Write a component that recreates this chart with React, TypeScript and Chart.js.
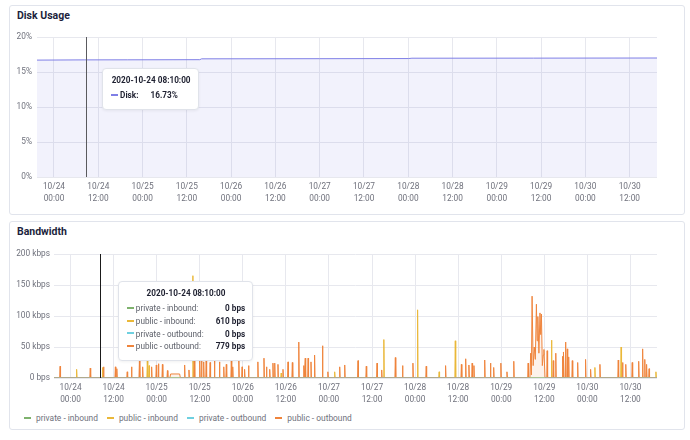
import React, { useEffect, useRef } from 'react';
import { Chart, registerables } from 'chart.js';

Chart.register(...registerables);

// ---------- data (hours are counted from 2020-10-24 00:00) ----------
const BASE_UTC = Date.UTC(2020, 9, 24, 0, 0, 0);
const RANGE_START_H = -4.6;
const RANGE_END_H = 163.4;
const X_TICK_H = [0, 12, 24, 36, 48, 60, 72, 84, 96, 108, 120, 132, 144, 156];
const HOVER_H = 8.1667; // 2020-10-24 08:10:00
const DISK_CROSSHAIR_H = 8.8;
const BW_CROSSHAIR_H = 8.17;

const DISK_Y_TICKS = [0, 5, 10, 15, 20];
const BW_Y_TICKS = [0, 50, 100, 150, 200];

// Disk usage (%)
const DISK_H = [-4.6, 8.1667, 20, 39.5, 40, 72, 96, 97, 130, 163.4];
const DISK_PCT = [16.7, 16.73, 16.74, 16.76, 16.88, 16.9, 16.92, 16.97, 16.98, 17.0];

// Bandwidth (kbps)
const PRIV_IN_H = [-4.6, 8.1667, 163.4];
const PRIV_IN_KBPS = [0, 0, 0];
const PRIV_OUT_H = [-4.6, 8.1667, 163.4];
const PRIV_OUT_KBPS = [0, 0, 0];

const PUB_IN_TRACE_H = [-4.6, 8.1667, 163.4];
const PUB_IN_TRACE_KBPS = [0.6, 0.61, 0.6];
const PUB_IN_FLOOR_KBPS = 0.6;
const PUB_IN_SPIKE_H = [1.7, 8.9, 21.4, 21.9, 34.1, 58.7, 73.6, 87.3, 96.7, 102.7, 107.2, 134.0, 146.1, 153.4, 163.1];
const PUB_IN_SPIKE_KBPS = [14, 17, 29, 20, 165, 8, 10, 62, 110, 10, 60, 61, 17, 50, 10];

const PUB_OUT_TRACE_H = [-4.6, 8.1667, 27.7, 27.9, 30.4, 30.6, 128.0, 128.2, 128.4, 128.6, 128.9, 129.2, 129.5, 129.8, 130.0, 130.2, 130.5, 130.8, 131.0, 131.2, 131.45, 131.7, 131.9, 132.2, 163.4];
const PUB_OUT_TRACE_KBPS = [0.8, 0.779, 0.8, 6.5, 6.5, 0.8, 0.8, 40, 5, 132, 20, 50, 30, 119, 60, 99, 40, 105, 70, 103, 20, 37, 46, 0.8, 0.8];
const PUB_OUT_FLOOR_KBPS = 0.8;
const PUB_OUT_SPIKE_H = [
  -2.9, 5.5, 9.2, 12.5, 12.9, 15.8, 17.0, 19.2, 20.1, 22.6, 23.9, 24.5, 25.6, 27.0,
  31.8, 33.0, 34.5, 36.0, 36.5, 37.1, 37.8, 38.9, 40.1, 41.5, 42.7, 43.4, 44.8, 45.2,
  46.9, 47.8, 48.5, 49.6, 52.2, 53.9, 54.6, 55.5, 56.4, 56.9, 57.8, 59.2, 60.6, 61.8,
  63.6, 65.0, 65.4, 66.2, 67.0, 68.0, 70.2, 71.7, 75.0, 76.4, 80.1, 82.4, 85.4, 86.7,
  90.5, 92.5, 95.4, 99.1, 104.5, 108.9, 110.1, 111.0, 111.9, 112.4, 115.4, 117.0, 117.9,
  119.9, 121.6, 123.5, 127.5, 132.8, 134.5, 135.2, 137.1, 137.4, 137.9, 138.4, 138.8,
  139.8, 141.3, 143.5, 144.9, 147.5, 152.6, 153.8, 154.7, 156.5, 158.3, 159.4, 160.0,
  160.5, 161.2,
];
const PUB_OUT_SPIKE_KBPS = [
  19, 16, 18, 18, 15, 10, 18, 29, 18, 18, 21, 23, 22, 12,
  21, 13, 45, 29, 31, 26, 29, 25, 31, 26, 18, 22, 28, 18,
  28, 18, 14, 20, 26, 32, 18, 14, 24, 24, 22, 14, 26, 25,
  58, 20, 32, 32, 26, 37, 52, 10, 18, 21, 28, 19, 24, 13,
  33, 20, 24, 19, 20, 22, 31, 21, 24, 20, 29, 24, 17,
  24, 10, 27, 24, 44, 28, 40, 35, 42, 58, 47, 34,
  28, 25, 30, 14, 22, 29, 25, 22, 25, 27, 47, 30,
  22, 15,
];

const SERIES_LABELS = ['private - inbound', 'public - inbound', 'private - outbound', 'public - outbound'];
const SERIES_COLORS = ['#7EB26D', '#EAB839', '#6ED0E0', '#EF843C'];
const DISK_COLOR = '#7f7fe6';

// ---------- helpers ----------
const FONT = 'Roboto, "Noto Sans", "DejaVu Sans", sans-serif';
const TICK_COLOR = '#6f717c';
const GRID_COLOR = '#e7e8ee';
const TICK_SIZE = 8.3;
const SPIKE_HALF_H = 0.12;

const pad = (n: number) => String(n).padStart(2, '0');
const hoursToDate = (h: number) => new Date(BASE_UTC + Math.round(h * 60) * 60000);
const fmtTick = (h: number) => {
  const d = hoursToDate(h);
  return [`${pad(d.getUTCMonth() + 1)}/${pad(d.getUTCDate())}`, `${pad(d.getUTCHours())}:${pad(d.getUTCMinutes())}`];
};
const fmtFull = (h: number) => {
  const d = hoursToDate(h);
  return `${d.getUTCFullYear()}-${pad(d.getUTCMonth() + 1)}-${pad(d.getUTCDate())} ${pad(d.getUTCHours())}:${pad(d.getUTCMinutes())}:${pad(d.getUTCSeconds())}`;
};
const fmtBps = (kbps: number) => {
  if (kbps === 0) return '0 bps';
  if (kbps < 1) return `${Math.round(kbps * 1000)} bps`;
  return `${Math.round(kbps)} kbps`;
};
const rgba = (hex: string, a: number) => {
  const n = parseInt(hex.slice(1), 16);
  return `rgba(${(n >> 16) & 255},${(n >> 8) & 255},${n & 255},${a})`;
};
const zipPts = (xs: number[], ys: number[]) => xs.map((x, i) => ({ x, y: ys[i] }));
const buildSpikeTrace = (th: number[], tv: number[], sh: number[], sv: number[], floor: number) => {
  const pts = zipPts(th, tv);
  sh.forEach((h, i) => {
    pts.push({ x: h - SPIKE_HALF_H, y: floor }, { x: h, y: sv[i] }, { x: h + SPIKE_HALF_H, y: floor });
  });
  pts.sort((a, b) => a.x - b.x);
  return pts;
};
const nearestIndex = (pts: { x: number }[], h: number) => {
  let best = 0;
  pts.forEach((p, i) => {
    if (Math.abs(p.x - h) < Math.abs(pts[best].x - h)) best = i;
  });
  return best;
};

const crosshairPlugin = {
  id: 'crosshair',
  afterDatasetsDraw(chart: any, _args: any, opts: any) {
    if (opts == null || opts.hours == null) return;
    const x = Math.round(chart.scales.x.getPixelForValue(opts.hours)) + 0.5;
    const { top, bottom } = chart.chartArea;
    const ctx = chart.ctx;
    ctx.save();
    ctx.strokeStyle = opts.color;
    ctx.lineWidth = 1;
    ctx.beginPath();
    ctx.moveTo(x, top);
    ctx.lineTo(x, bottom);
    ctx.stroke();
    ctx.restore();
  },
};

function makeExternalTooltip(el: HTMLDivElement, opts: { dx: number; dy: number; minWidth: number; fmt: (v: number) => string; boldLabel: boolean }) {
  return (context: any) => {
    const { chart, tooltip } = context;
    if (!tooltip || tooltip.opacity === 0 || !tooltip.dataPoints || !tooltip.dataPoints.length) {
      el.style.display = 'none';
      return;
    }
    const title = fmtFull(tooltip.dataPoints[0].parsed.x);
    const rows = tooltip.dataPoints
      .map((dp: any) => {
        const color = dp.dataset.borderColor;
        return `<tr style="height:12.8px">
          <td style="padding:0;white-space:nowrap;${opts.boldLabel ? 'font-weight:700;color:#1e2030;' : ''}"><span style="display:inline-block;width:7px;height:2px;background:${color};vertical-align:middle;margin-right:2px;position:relative;top:-1px"></span>${dp.dataset.label}:</td>
          <td style="padding:0 0 0 12px;text-align:right;font-weight:700;color:#1e2030;white-space:nowrap">${opts.fmt(dp.parsed.y)}</td>
        </tr>`;
      })
      .join('');
    el.innerHTML = `<div style="text-align:center;font-weight:700;color:#1e2030;line-height:13px;margin-bottom:2px">${title}</div>
      <table style="border-collapse:collapse;font:inherit;color:inherit;line-height:12.8px"><tbody>${rows}</tbody></table>`;
    el.style.display = 'block';
    el.style.minWidth = `${opts.minWidth}px`;
    el.style.left = `${chart.canvas.offsetLeft + tooltip.caretX + opts.dx}px`;
    el.style.top = `${chart.canvas.offsetTop + chart.chartArea.top + opts.dy}px`;
  };
}

const tooltipStyle: React.CSSProperties = {
  position: 'absolute',
  display: 'none',
  boxSizing: 'border-box',
  background: '#fff',
  border: '1px solid #e0e3ea',
  borderRadius: 4,
  padding: '5px 7px 7px 8px',
  fontFamily: FONT,
  fontSize: 8.2,
  color: '#5b5e68',
  boxShadow: '0 1px 3px rgba(0,0,0,0.06)',
  zIndex: 5,
};

const panelStyle: React.CSSProperties = {
  position: 'absolute',
  boxSizing: 'border-box',
  background: '#fff',
  border: '1px solid #e1e4ec',
  borderRadius: 3,
};

const titleStyle: React.CSSProperties = {
  position: 'absolute',
  left: 17,
  fontFamily: FONT,
  fontWeight: 700,
  fontSize: 10.5,
  lineHeight: '12px',
  color: '#1c1f3d',
  whiteSpace: 'nowrap',
};

function xScale(axisHeight: number) {
  return {
    type: 'linear' as const,
    min: RANGE_START_H,
    max: RANGE_END_H,
    afterBuildTicks: (axis: any) => {
      axis.ticks = X_TICK_H.map((v) => ({ value: v }));
    },
    afterFit: (axis: any) => {
      axis.height = axisHeight;
    },
    ticks: {
      autoSkip: false,
      maxRotation: 0,
      padding: 4,
      color: TICK_COLOR,
      font: { family: FONT, size: TICK_SIZE, lineHeight: 1.45 },
      callback: (v: any) => fmtTick(Number(v)),
    },
    grid: { color: GRID_COLOR, drawTicks: false },
    border: { display: false },
  };
}

export default function App() {
  const diskRef = useRef<HTMLCanvasElement>(null);
  const bwRef = useRef<HTMLCanvasElement>(null);
  const diskTipRef = useRef<HTMLDivElement>(null);
  const bwTipRef = useRef<HTMLDivElement>(null);

  useEffect(() => {
    const diskData = zipPts(DISK_H, DISK_PCT);
    const disk = new Chart(diskRef.current!, {
      type: 'line',
      data: {
        datasets: [
          {
            label: 'Disk',
            data: diskData,
            borderColor: DISK_COLOR,
            backgroundColor: rgba(DISK_COLOR, 0.1),
            borderWidth: 1,
            fill: 'origin',
            pointRadius: 0,
            pointHoverRadius: 0,
            tension: 0,
          },
        ],
      },
      options: {
        responsive: false,
        animation: false,
        events: [],
        layout: { padding: { left: 0, right: 33, top: 37, bottom: 0 } },
        scales: {
          x: xScale(37) as any,
          y: {
            min: 0,
            max: 20,
            afterBuildTicks: (axis: any) => {
              axis.ticks = DISK_Y_TICKS.map((v) => ({ value: v }));
            },
            afterFit: (axis: any) => {
              axis.width = 37;
            },
            ticks: {
              padding: 5,
              color: TICK_COLOR,
              font: { family: FONT, size: TICK_SIZE },
              callback: (v: any) => `${v}%`,
            },
            grid: { color: GRID_COLOR, drawTicks: false },
            border: { display: false },
          },
        },
        plugins: {
          legend: { display: false },
          tooltip: {
            enabled: false,
            external: makeExternalTooltip(diskTipRef.current!, {
              dx: 18,
              dy: 31,
              minWidth: 97,
              fmt: (v) => `${v.toFixed(2)}%`,
              boldLabel: true,
            }),
          },
          crosshair: { hours: DISK_CROSSHAIR_H, color: '#5a5a5e' },
        } as any,
      },
      plugins: [crosshairPlugin],
    });

    const bwSeries = [
      zipPts(PRIV_IN_H, PRIV_IN_KBPS),
      buildSpikeTrace(PUB_IN_TRACE_H, PUB_IN_TRACE_KBPS, PUB_IN_SPIKE_H, PUB_IN_SPIKE_KBPS, PUB_IN_FLOOR_KBPS),
      zipPts(PRIV_OUT_H, PRIV_OUT_KBPS),
      buildSpikeTrace(PUB_OUT_TRACE_H, PUB_OUT_TRACE_KBPS, PUB_OUT_SPIKE_H, PUB_OUT_SPIKE_KBPS, PUB_OUT_FLOOR_KBPS),
    ];
    const drawOrder = [3, 2, 0, 1];
    const bw = new Chart(bwRef.current!, {
      type: 'line',
      data: {
        datasets: bwSeries.map((pts, i) => ({
          label: SERIES_LABELS[i],
          data: pts,
          borderColor: SERIES_COLORS[i],
          backgroundColor: rgba(SERIES_COLORS[i], 0.1),
          borderWidth: 1,
          fill: 'origin',
          pointRadius: 0,
          pointHoverRadius: 0,
          tension: 0,
          order: drawOrder[i],
        })),
      },
      options: {
        responsive: false,
        animation: false,
        events: [],
        layout: { padding: { left: 0, right: 33, top: 39, bottom: 0 } },
        scales: {
          x: xScale(32) as any,
          y: {
            min: 0,
            max: 200,
            afterBuildTicks: (axis: any) => {
              axis.ticks = BW_Y_TICKS.map((v) => ({ value: v }));
            },
            afterFit: (axis: any) => {
              axis.width = 54;
            },
            ticks: {
              padding: 4,
              color: TICK_COLOR,
              font: { family: FONT, size: TICK_SIZE },
              callback: (v: any) => (Number(v) === 0 ? '0 bps' : `${v} kbps`),
            },
            grid: { color: GRID_COLOR, drawTicks: false },
            border: { display: false },
          },
        },
        plugins: {
          legend: { display: false },
          tooltip: {
            enabled: false,
            external: makeExternalTooltip(bwTipRef.current!, {
              dx: 18,
              dy: 27,
              minWidth: 100,
              fmt: fmtBps,
              boldLabel: false,
            }),
          },
          crosshair: { hours: BW_CROSSHAIR_H, color: '#1a1a1a' },
        } as any,
      },
      plugins: [crosshairPlugin],
    });

    const diskActive = [{ datasetIndex: 0, index: nearestIndex(diskData, HOVER_H) }];
    disk.tooltip!.setActiveElements(diskActive, { x: 0, y: 0 });
    disk.update();
    const bwActive = bwSeries.map((pts, i) => ({ datasetIndex: i, index: nearestIndex(pts, HOVER_H) }));
    bw.tooltip!.setActiveElements(bwActive, { x: 0, y: 0 });
    bw.update();

    return () => {
      disk.destroy();
      bw.destroy();
    };
  }, []);

  return (
    <div style={{ position: 'absolute', left: 0, top: 0, width: 690, height: 440, background: '#fff', overflow: 'hidden' }}>
      <div style={{ ...panelStyle, left: 9, top: 5, width: 676, height: 210 }} />
      <div style={{ ...panelStyle, left: 9, top: 221, width: 676, height: 209 }} />
      <div style={{ ...titleStyle, top: 10 }}>Disk Usage</div>
      <div style={{ ...titleStyle, top: 226 }}>Bandwidth</div>
      <canvas ref={diskRef} width={690} height={214} style={{ position: 'absolute', left: 0, top: 0 }} />
      <canvas ref={bwRef} width={690} height={195} style={{ position: 'absolute', left: 0, top: 215 }} />
      <div
        style={{
          position: 'absolute',
          left: 24,
          top: 412,
          display: 'flex',
          alignItems: 'center',
          fontFamily: FONT,
          fontSize: 8.4,
          lineHeight: '12px',
          color: TICK_COLOR,
          whiteSpace: 'nowrap',
        }}
      >
        {SERIES_LABELS.map((lab, i) => (
          <div key={lab} style={{ display: 'flex', alignItems: 'center', marginRight: 9 }}>
            <span style={{ display: 'inline-block', width: 7, height: 2, background: SERIES_COLORS[i], marginRight: 5 }} />
            <span>{lab}</span>
          </div>
        ))}
      </div>
      <div ref={diskTipRef} style={tooltipStyle} />
      <div ref={bwTipRef} style={tooltipStyle} />
    </div>
  );
}
